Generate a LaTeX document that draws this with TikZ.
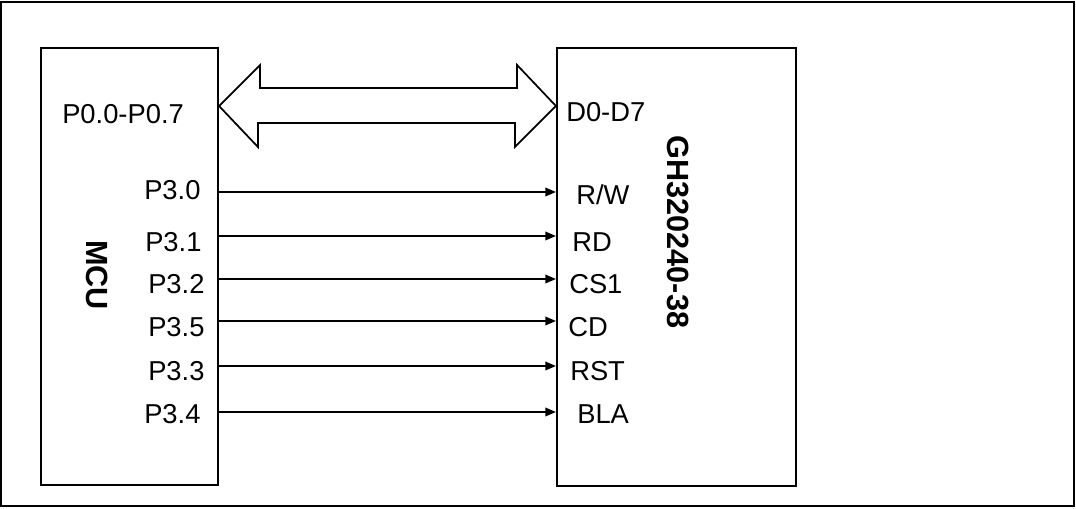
\documentclass[tikz,border=0pt]{standalone}
\usepackage{fontspec}
\setmainfont{Liberation Sans}
\usetikzlibrary{arrows.meta,positioning}

\begin{document}
\begin{tikzpicture}[
    x=0.75pt, y=-0.75pt,
    every node/.style={font=\fontsize{20.5}{24}\selectfont, inner sep=0pt},
    frame/.style={draw=black, line width=1pt},
    chip/.style={draw=black, line width=1.6pt},
    bus/.style={draw=black, fill=white, line width=1.3pt, line join=miter},
    sig/.style={black, line width=1.2pt, -{Triangle[length=8pt,width=6.5pt]}},
    pin/.style={anchor=base west},
    title/.style={font=\fontsize{23}{27}\selectfont\bfseries, rotate=-90},
  ]
  % page frame
  \useasboundingbox (0,0) rectangle (1076,509);
  \draw[frame] (1,2) rectangle (1074,506);

  % the two chips
  \node[chip, minimum width=132.75pt, minimum height=327.75pt] (mcu) at (129.5,266.5) {};
  \node[chip, minimum width=179.25pt, minimum height=328.5pt] (lcd) at (676.5,267) {};

  % data bus
  \coordinate (busL) at (mcu.east |- 0,106);
  \coordinate (busR) at (lcd.west |- 0,106);
  \draw[bus] (busL) -- ++(41,-41) -- ++(0,23) -- ++(257,0) -- ++(0,-23) -- (busR)
    -- ++(-41,41) -- ++(0,-24) -- ++(-257,0) -- ++(0,24) -- cycle;

  % control lines
  \foreach \y in {192,236,279,321,366,412}
    \draw[sig] (mcu.east |- 0,\y) -- (lcd.west |- 0,\y);

  \node[pin] (p0)  at (62,124)  {P0.0-P0.7};
  \node[pin] (p30) at (144,200) {P3.0};
  \node[pin] (p31) at (145,252) {P3.1};
  \node[pin] (p32) at (148,294) {P3.2};
  \node[pin] (p35) at (148,337) {P3.5};
  \node[pin] (p33) at (148,381) {P3.3};
  \node[pin] (p34) at (144,424) {P3.4};

  \node[pin] (d0)  at (566,122) {D0-D7};
  \node[pin] (rw)  at (576,205) {R/W};
  \node[pin] (rd)  at (572,252) {RD};
  \node[pin] (cs1) at (569,294) {CS1};
  \node[pin] (cd)  at (568,337) {CD};
  \node[pin] (rst) at (570,381) {RST};
  \node[pin] (bla) at (577,424) {BLA};

  \node[title] (mcutxt) at (97,275)    {MCU};
  \node[title] (lcdtxt) at (678.5,232) {GH320240-38};
\end{tikzpicture}
\end{document}
